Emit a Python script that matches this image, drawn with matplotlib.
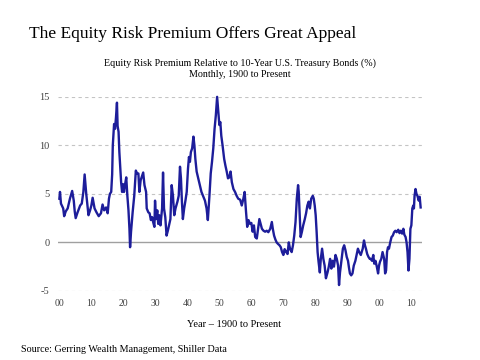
import matplotlib.pyplot as plt
import numpy as np

# Equity risk premium vs 10-yr treasuries (%)
years = [
    1900.0, 1900.2, 1900.5, 1901.2, 1901.5, 1902.0, 1902.6, 1903.3, 1904.0, 1904.5,
    1904.8, 1905.1, 1905.7, 1906.5, 1907.0, 1907.5, 1907.9, 1908.4, 1909.1, 1909.6,
    1910.0, 1910.4, 1911.0, 1911.6, 1912.3, 1913.0, 1913.5, 1914.0, 1914.6, 1915.1,
    1915.5, 1915.8, 1916.2, 1916.5, 1916.7, 1917.1, 1917.4, 1917.7, 1918.0, 1918.2,
    1918.5, 1918.75, 1919.0, 1919.3, 1919.6, 1919.9, 1920.2, 1920.5, 1920.9, 1921.25,
    1921.6, 1921.9, 1922.1, 1922.4, 1922.9, 1923.4, 1923.9, 1924.3, 1924.7, 1925.0,
    1925.4, 1926.2, 1926.6, 1927.1, 1927.3, 1927.8, 1928.2, 1928.6, 1929.0, 1929.3,
    1929.7, 1929.9, 1930.2, 1930.6, 1930.9, 1931.2, 1931.6, 1932.1, 1932.4, 1932.7,
    1933.1, 1933.5, 1933.9, 1934.3, 1934.7, 1935.1, 1935.5, 1935.9, 1936.3, 1936.9,
    1937.3, 1937.7, 1938.0, 1938.3, 1938.6, 1939.0, 1939.4, 1939.8, 1940.2, 1940.5,
    1940.8, 1941.1, 1941.5, 1941.9, 1942.2, 1942.5, 1942.9, 1943.4, 1943.9, 1944.4,
    1944.9, 1945.5, 1946.0, 1946.4, 1946.9, 1947.3, 1947.7, 1948.1, 1948.5, 1948.9,
    1949.3, 1949.6, 1950.0, 1950.3, 1950.6, 1951.0, 1951.5, 1951.9, 1952.3, 1952.7,
    1953.1, 1953.5, 1953.9, 1954.4, 1954.9, 1955.4, 1955.9, 1956.5, 1957.0, 1957.5,
    1957.9, 1958.3, 1958.7, 1959.1, 1959.6, 1960.0, 1960.4, 1960.8, 1961.2, 1961.7,
    1962.1, 1962.5, 1962.9, 1963.3, 1963.8, 1964.3, 1964.8, 1965.3, 1965.9, 1966.4,
    1966.7, 1967.1, 1967.5, 1967.9, 1968.3, 1968.8, 1969.2, 1969.6, 1970.0, 1970.4,
    1970.9, 1971.3, 1971.7, 1972.1, 1972.6, 1973.0, 1973.4, 1973.8, 1974.2, 1974.6,
    1974.8, 1975.1, 1975.4, 1975.8, 1976.2, 1976.7, 1977.1, 1977.5, 1977.9, 1978.3,
    1978.7, 1979.2, 1979.5, 1979.8, 1980.1, 1980.4, 1980.7, 1981.0, 1981.4, 1981.7,
    1982.1, 1982.5, 1982.9, 1983.3, 1983.8, 1984.2, 1984.6, 1985.0, 1985.4, 1985.8,
    1986.3, 1986.7, 1987.1, 1987.4, 1987.7, 1988.2, 1988.6, 1989.0, 1989.4, 1989.8,
    1990.2, 1990.5, 1990.8, 1991.2, 1991.6, 1992.0, 1992.5, 1992.9, 1993.3, 1993.7,
    1994.2, 1994.8, 1995.2, 1995.5, 1995.8, 1996.2, 1996.6, 1997.0, 1997.3, 1997.7,
    1998.1, 1998.4, 1998.8, 1999.2, 1999.6, 1999.9, 2000.2, 2000.6, 2001.0, 2001.5,
    2001.8, 2002.1, 2002.4, 2002.7, 2003.0, 2003.4, 2003.8, 2004.2, 2004.6, 2005.0,
    2005.4, 2005.9, 2006.3, 2006.7, 2007.1, 2007.5, 2007.8, 2008.2, 2008.5, 2008.8,
    2009.1, 2009.4, 2009.7, 2010.0, 2010.3, 2010.6, 2010.8, 2011.0, 2011.3, 2011.6,
    2011.9, 2012.3, 2012.6, 2012.9,
]
erp = [
    4.5, 5.2, 4.0, 3.5, 2.7, 3.2, 3.5, 4.5, 5.3, 4.3,
    3.2, 2.5, 3.1, 3.8, 4.0, 5.2, 7.0, 5.0, 2.8, 3.3,
    3.8, 4.6, 3.5, 3.1, 2.7, 3.0, 3.9, 3.3, 3.6, 3.0,
    4.5, 5.0, 5.2, 7.0, 10.0, 12.2, 11.7, 12.9, 14.4, 12.0,
    11.4, 9.3, 7.9, 6.2, 5.2, 6.0, 5.2, 5.9, 6.7, 4.8,
    3.3, 1.4, -0.5, 1.1, 3.1, 4.8, 7.4, 7.1, 7.1, 5.2,
    6.4, 7.2, 5.9, 5.2, 3.5, 3.1, 3.0, 2.3, 2.6, 2.1,
    1.6, 4.3, 2.4, 3.3, 1.9, 2.8, 1.75, 3.5, 7.2, 3.5,
    2.6, 0.7, 1.2, 1.8, 2.4, 5.9, 4.8, 2.8, 3.5, 4.2,
    4.8, 7.8, 6.6, 4.2, 2.4, 3.5, 4.3, 5.2, 7.6, 8.8,
    8.3, 9.3, 9.7, 10.9, 10.0, 8.6, 7.3, 6.6, 5.9, 5.2,
    4.8, 4.3, 3.5, 2.3, 4.8, 7.1, 8.3, 9.7, 11.7, 13.1,
    15.0, 13.8, 12.1, 12.4, 11.0, 10.0, 8.6, 7.9, 7.3, 6.6,
    6.7, 7.3, 6.2, 5.5, 5.2, 4.8, 4.5, 4.4, 3.8, 4.5,
    5.2, 3.3, 1.6, 2.3, 1.9, 2.0, 1.1, 1.75, 0.55, 0.4,
    1.4, 2.4, 1.9, 1.4, 1.2, 1.1, 1.2, 1.05, 1.4, 2.1,
    1.4, 0.7, 0.3, 0.0, -0.15, -0.3, -0.5, -1.0, -1.3, -0.7,
    -1.0, -1.2, 0.0, -0.7, -1.0, -0.3, 0.7, 2.1, 4.5, 5.9,
    5.2, 2.8, 0.55, 1.1, 1.75, 2.4, 3.0, 3.8, 4.2, 3.5,
    4.5, 4.8, 4.5, 3.8, 2.8, 1.05, -1.0, -2.0, -3.1, -1.7,
    -0.65, -1.7, -2.4, -3.7, -3.1, -2.5, -1.7, -2.7, -1.9, -2.5,
    -1.3, -1.7, -2.4, -4.4, -3.1, -1.7, -0.65, -0.3, -0.8, -1.5,
    -1.9, -2.6, -3.2, -3.4, -3.2, -2.4, -1.9, -1.3, -0.65, -1.0,
    -1.3, -0.65, 0.2, -0.3, -0.65, -1.2, -1.5, -1.7, -1.7, -1.9,
    -1.3, -2.2, -1.9, -2.5, -3.2, -2.4, -2.0, -1.7, -1.0, -1.7,
    -3.2, -2.9, -1.0, -0.5, -0.65, 0.0, 0.55, 0.7, 1.05, 1.2,
    1.05, 1.3, 0.95, 1.2, 0.9, 1.4, 0.8, 0.55, 0.0, -1.0,
    -2.9, -1.7, 1.4, 1.75, 3.5, 3.8, 3.5, 4.8, 5.5, 5.0,
    4.8, 4.3, 4.7, 3.6,
]
tick_years = [1900, 1910, 1920, 1930, 1940, 1950, 1960, 1970, 1980, 1990, 2000, 2010]
tick_labels = ["00", "10", "20", "30", "40", "50", "60", "70", "80", "90", "00", "10"]
y_ticks = [-5, 0, 5, 10, 15]

serif = ['Liberation Serif', 'DejaVu Serif']

fig = plt.figure(figsize=(4.8, 3.6), dpi=100)
ax = fig.add_axes([0.121, 0.192, 0.758, 0.539])

for v in y_ticks:
    if v == 0:
        ax.axhline(v, color='#a0a0a0', linewidth=1.0, zorder=1)
    else:
        ax.axhline(v, color='#c4c4c4', linewidth=0.8, linestyle=(0, (3, 3)), zorder=1)

ax.plot(years, erp, color='#1d1d9a', linewidth=1.7, zorder=3, clip_on=False)

ax.set_xlim(1899.6, 2013.3)
ax.set_ylim(-5, 15)
for s in ax.spines.values():
    s.set_visible(False)
ax.tick_params(length=0, pad=6)
ax.set_xticks(tick_years)
ax.set_xticklabels(tick_labels, fontsize=7, family=serif, color='#404040')
ax.set_yticks(y_ticks)
ax.set_yticklabels([str(v) for v in y_ticks], fontsize=7.5, family=serif, color='#404040')
ax.set_xlabel('Year – 1900 to Present', fontsize=7.5, family=serif)
ax.xaxis.set_label_coords(0.485, -0.15)

fig.text(0.06, 0.895, 'The Equity Risk Premium Offers Great Appeal', fontsize=12.5, family=serif)
fig.text(0.5, 0.81, 'Equity Risk Premium Relative to 10-Year U.S. Treasury Bonds (%)\nMonthly, 1900 to Present',
         fontsize=7.2, family=serif, ha='center', va='center', linespacing=1.3)
fig.text(0.043, 0.023, 'Source: Gerring Wealth Management, Shiller Data', fontsize=7.3, family=serif)

fig.savefig('out.png', dpi=100)
